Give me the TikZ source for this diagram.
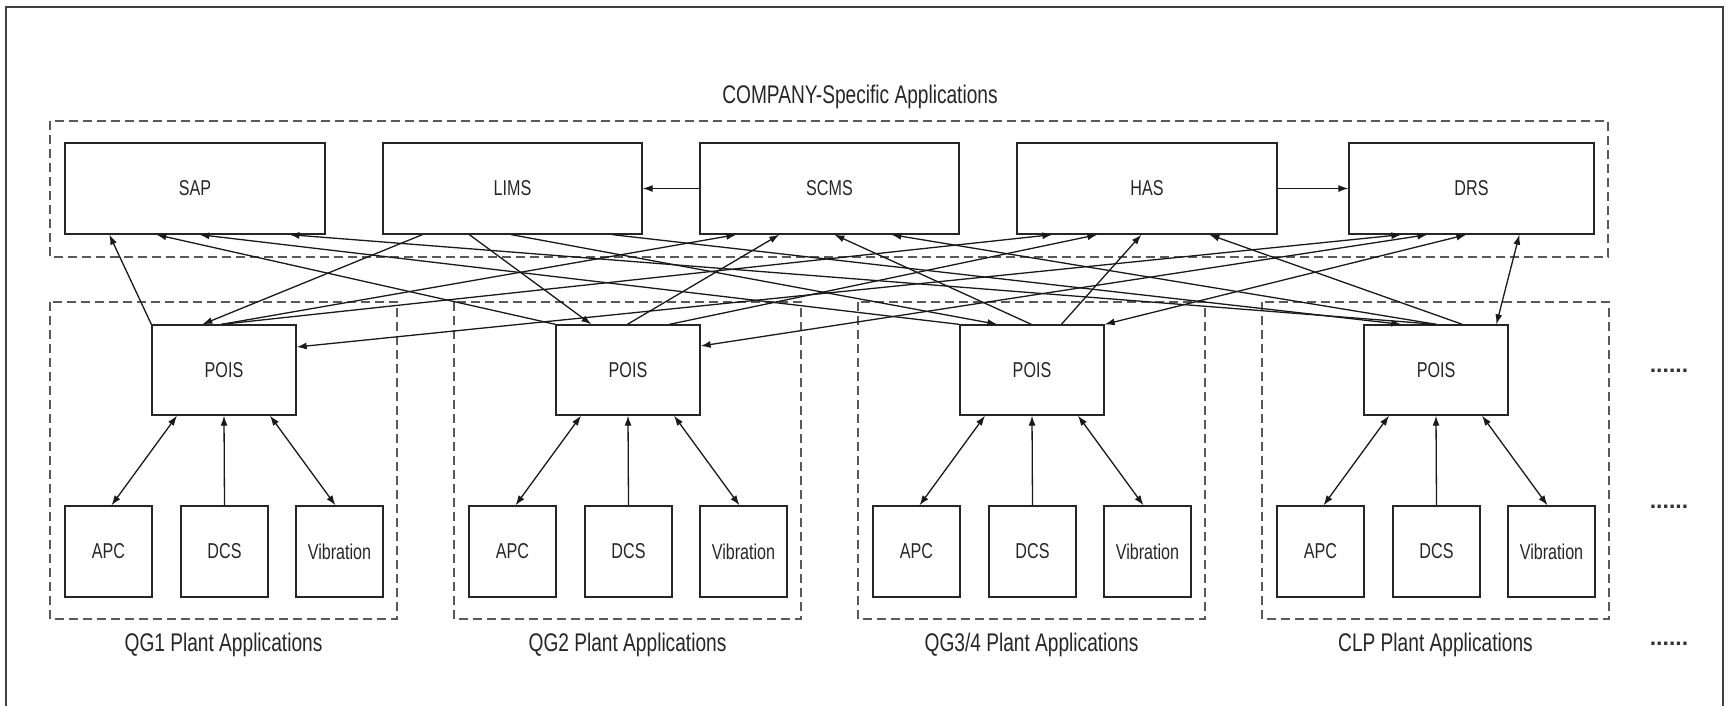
\documentclass[tikz,border=0pt]{standalone}
\usepackage{fontspec}
\setmainfont[FakeStretch=0.75]{Liberation Sans}
\newfontfamily\plainsans{Liberation Sans}
\usetikzlibrary{arrows.meta}

\begin{document}
\begin{tikzpicture}[x=1pt,y=-1pt,
  appbox/.style={draw=black!85, line width=1.3pt, inner sep=0pt,
    font=\fontsize{21.5}{25}\selectfont, text=black!85},
  grp/.style={draw=black!65, line width=1.8pt, dash pattern=on 9pt off 5pt},
  heading/.style={font=\fontsize{25.5}{30}\selectfont, text=black!85, inner sep=0pt},
  link/.style={draw=black!90, line width=1.3pt, -{Latex[length=10pt,width=7pt]}},
  duplex/.style={draw=black!90, line width=1.3pt, {Latex[length=10pt,width=7pt]}-{Latex[length=10pt,width=7pt]}},
  more/.style={font=\plainsans\bfseries\fontsize{23}{28}\selectfont, text=black!80, inner sep=0pt, anchor=base}]

\useasboundingbox (0,0) rectangle (1729,705);

% outer frame
\draw[black!75, line width=1.8pt] (6,715) -- (6,7) -- (1723,7) -- (1723,715);

% company-wide applications
\node[heading] (title) at (860,97) {COMPANY-Specific Applications};
\draw[grp] (50,121) rectangle (1608,257);

\node[appbox, minimum width=260pt, minimum height=91pt] (sap)  at (195,188.5)   {SAP};
\node[appbox, minimum width=259pt, minimum height=91pt] (lims) at (512.5,188.5) {LIMS};
\node[appbox, minimum width=259pt, minimum height=91pt] (scms) at (829.5,188.5) {SCMS};
\node[appbox, minimum width=260pt, minimum height=91pt] (has)  at (1147,188.5)  {HAS};
\node[appbox, minimum width=245pt, minimum height=91pt] (drs)  at (1471.5,188.5) {DRS};

\draw[link] (scms.west) -- (lims.east);
\draw[link] (has.east) -- (drs.west);

% plant applications
\foreach \i in {1,2,3,4}{
  \pgfmathsetmacro{\dx}{404*(\i-1)}
  \draw[grp] (50+\dx,302) rectangle (397+\dx,619);
  \node[appbox, minimum width=144pt, minimum height=90pt] (pois\i) at (224+\dx,370) {POIS};
  \node[appbox, minimum width=87pt, minimum height=91pt] (apc\i) at (108.5+\dx,551.5) {APC};
  \node[appbox, minimum width=87pt, minimum height=91pt] (dcs\i) at (224.5+\dx,551.5) {DCS};
  \node[appbox, minimum width=87pt, minimum height=91pt] (vib\i) at (339.5+\dx,551.5) {Vibration};
  \draw[duplex] ([xshift=-47pt]pois\i.south) -- ([xshift=3pt]apc\i.north);
  \draw[link] (dcs\i.north) -- (pois\i.south);
  \draw[duplex] ([xshift=46pt]pois\i.south) -- ([xshift=-4pt]vib\i.north);
}

\node[heading] (lab1) at (223.5,645) {QG1 Plant Applications};
\node[heading] (lab2) at (627.5,645) {QG2 Plant Applications};
\node[heading] (lab3) at (1031.5,645) {QG3/4 Plant Applications};
\node[heading] (lab4) at (1435.5,645) {CLP Plant Applications};

\node[more] (more1) at (1669,372) {......};
\node[more] (more2) at (1669,508) {......};
\node[more] (more3) at (1669,645) {......};

% POIS -> SAP
\draw[link] (pois1.north west) -- ([xshift=45pt]sap.south west);
\draw[link] (pois2.north west) -- ([xshift=92pt]sap.south west);
\draw[link] (pois3.north west) -- ([xshift=135pt]sap.south west);
\draw[link] ([xshift=73pt]pois4.north west) -- ([xshift=225pt]sap.south west);

% LIMS -> POIS
\draw[link] ([xshift=40pt]lims.south west) -- ([xshift=51pt]pois1.north west);
\draw[link] ([xshift=87pt]lims.south west) -- ([xshift=36pt]pois2.north west);
\draw[link] ([xshift=129pt]lims.south west) -- ([xshift=38pt]pois3.north west);
\draw[link] ([xshift=230pt]lims.south west) -- ([xshift=38pt]pois4.north west);

% POIS -> SCMS
\draw[link] ([xshift=70pt]pois1.north west) -- ([xshift=37pt]scms.south west);
\draw[link] ([xshift=72pt]pois2.north west) -- ([xshift=80pt]scms.south west);
\draw[link] ([xshift=72pt]pois3.north west) -- ([xshift=135pt]scms.south west);
\draw[link] ([xshift=73pt]pois4.north west) -- ([xshift=192pt]scms.south west);

% POIS -> HAS
\draw[link] ([xshift=70pt]pois1.north west) -- ([xshift=36pt]has.south west);
\draw[link] ([xshift=114pt]pois2.north west) -- ([xshift=81pt]has.south west);
\draw[link] ([xshift=102pt]pois3.north west) -- ([xshift=125pt]has.south west);
\draw[link] ([xshift=99pt]pois4.north west) -- ([xshift=193pt]has.south west);

% POIS <-> DRS
\draw[duplex] ([yshift=23pt]pois1.east) -- ([xshift=53pt]drs.south west);
\draw[duplex] ([yshift=24pt]pois2.east) -- ([xshift=79pt]drs.south west);
\draw[duplex] (pois3.north east) -- ([xshift=118pt]drs.south west);
\draw[duplex] ([xshift=133pt]pois4.north west) -- ([xshift=171pt]drs.south west);
\end{tikzpicture}
\end{document}
